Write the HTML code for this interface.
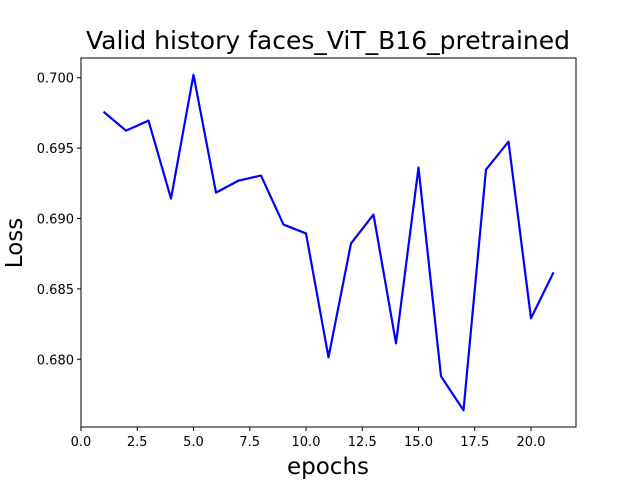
<!DOCTYPE html>
<html><head><meta charset="utf-8"><style>
body{margin:0;background:#fff;}
svg{display:block;font-family:"DejaVu Sans","Liberation Sans",sans-serif;}
</style></head><body>
<svg id="chart" width="640" height="480">
<rect width="640" height="480" fill="#fff"/>
<text x="328" y="49" font-size="25" text-anchor="middle">Valid history faces_ViT_B16_pretrained</text>
<g id="ticks"></g>
<polyline id="line" fill="none" stroke="#0000ff" stroke-width="2.2" stroke-linejoin="round"/>
<rect x="81" y="58" width="495" height="369" fill="none" stroke="#000" stroke-width="1"/>
<text x="328" y="474" font-size="23" text-anchor="middle">epochs</text>
<text transform="translate(22,243) rotate(-90)" font-size="23" text-anchor="middle">Loss</text>
</svg>
<script>
const epochs=[1,2,3,4,5,6,7,8,9,10,11,12,13,14,15,16,17,18,19,20,21];
const losses=[0.69759,0.69624,0.69695,0.69142,0.70021,0.69184,0.69269,0.69305,0.68957,0.68894,0.68014,0.68823,0.69028,0.68113,0.69362,0.67879,0.67638,0.69348,0.69546,0.68291,0.68617];
const xTicks=[0,2.5,5,7.5,10,12.5,15,17.5,20];
const xTickLabels=["0.0","2.5","5.0","7.5","10.0","12.5","15.0","17.5","20.0"];
const yTicks=[0.680,0.685,0.690,0.695,0.700];
const yTickLabels=["0.680","0.685","0.690","0.695","0.700"];
const L=81,R=576,T=58,B=427;
const xmin0=Math.min(...epochs),xmax0=Math.max(...epochs),xm=(xmax0-xmin0)*0.05;
const ymin0=Math.min(...losses),ymax0=Math.max(...losses),ym=(ymax0-ymin0)*0.05;
const x0=xmin0-xm,x1=xmax0+xm,y0=ymin0-ym,y1=ymax0+ym;
const sx=v=>L+(v-x0)/(x1-x0)*(R-L);
const sy=v=>B-(v-y0)/(y1-y0)*(B-T);
const NS="http://www.w3.org/2000/svg";
const g=document.getElementById('ticks');
function mk(t,a){const e=document.createElementNS(NS,t);for(const k in a)e.setAttribute(k,a[k]);g.appendChild(e);return e;}
xTicks.forEach((v,i)=>{const x=sx(v);if(x<L-0.5||x>R+0.5)return;
const l=mk('line',{x1:x,x2:x,y1:B,y2:B+4,stroke:'#000'});


const t=mk('text',{x:x,y:B+19,'font-size':'13','text-anchor':'middle'});t.textContent=xTickLabels[i];

});
yTicks.forEach((v,i)=>{const y=sy(v);
const l=mk('line',{x1:L-4,x2:L,y1:y,y2:y,stroke:'#000'});


const t=mk('text',{x:L-7,y:y+5,'font-size':'13','text-anchor':'end'});t.textContent=yTickLabels[i];

});
document.getElementById('line').setAttribute('points',epochs.map((e,i)=>sx(e)+','+sy(losses[i])).join(' '));
</script>
</body></html>
